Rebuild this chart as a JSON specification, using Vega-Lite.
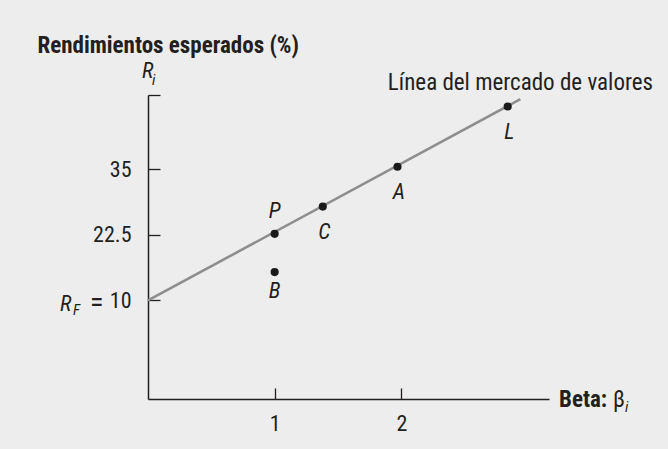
{
  "$schema": "https://vega.github.io/schema/vega-lite/v6.json",
  "width": 401,
  "height": 304,
  "autosize": {"type": "none"},
  "padding": {"left": 148, "top": 95, "right": 119, "bottom": 50},
  "background": "#ededed",
  "config": {
    "view": {"stroke": null},
    "font": "Roboto Condensed, DejaVu Sans Condensed, Arial Narrow, Roboto",
    "text": {"font": "Roboto Condensed, DejaVu Sans Condensed, Arial Narrow, Roboto", "color": "#231f20"}
  },
  "datasets": {
    "linea": [
      {"beta": 0, "rendimiento": 10},
      {"beta": 2.94, "rendimiento": 48.4}
    ],
    "puntos": [
      {"nombre": "P", "beta": 1.0, "rendimiento": 22.7},
      {"nombre": "B", "beta": 1.0, "rendimiento": 15.4},
      {"nombre": "C", "beta": 1.38, "rendimiento": 27.9},
      {"nombre": "A", "beta": 1.97, "rendimiento": 35.5},
      {"nombre": "L", "beta": 2.84, "rendimiento": 47.0}
    ]
  },
  "layer": [
    {
      "data": {"name": "linea"},
      "mark": {"type": "line", "color": "#8e8e8e", "strokeWidth": 2.6},
      "encoding": {
        "x": {
          "field": "beta",
          "type": "quantitative",
          "scale": {"domain": [0, 3.166], "nice": false, "zero": false},
          "axis": {
            "values": [1, 2],
            "format": "d",
            "title": null,
            "grid": false,
            "domainColor": "#231f20",
            "domainWidth": 1.5,
            "tickColor": "#231f20",
            "tickWidth": 1.3,
            "tickSize": -11,
            "labelFont": "Roboto Condensed, DejaVu Sans Condensed, Arial Narrow, Roboto",
            "labelFontSize": 22,
            "labelColor": "#231f20",
            "labelPadding": 25,
            "labelFlush": false,
            "labelOverlap": false
          }
        },
        "y": {
          "field": "rendimiento",
          "type": "quantitative",
          "scale": {"domain": [-8.82, 49.2], "nice": false, "zero": false},
          "axis": {
            "values": [10, 22.5, 35, 49.2],
            "labelExpr": "datum.value == 10 ? '10' : datum.value == 22.5 ? '22.5' : datum.value == 35 ? '35' : ''",
            "title": "Rendimientos esperados (%)",
            "titleAngle": 0,
            "titleX": -111,
            "titleY": -43,
            "titleAlign": "left",
            "titleBaseline": "alphabetic",
            "titleFont": "Roboto Condensed, DejaVu Sans Condensed, Arial Narrow, Roboto",
            "titleFontSize": 23,
            "titleFontWeight": "bold",
            "titleColor": "#231f20",
            "grid": false,
            "domainColor": "#231f20",
            "domainWidth": 1.5,
            "tickColor": "#231f20",
            "tickWidth": 1.3,
            "tickSize": -12,
            "labelFont": "Roboto Condensed, DejaVu Sans Condensed, Arial Narrow, Roboto",
            "labelFontSize": 22,
            "labelColor": "#231f20",
            "labelPadding": 29,
            "labelBaseline": "middle",
            "labelFlush": false,
            "labelOverlap": false
          }
        }
      }
    },
    {
      "data": {"name": "puntos"},
      "mark": {"type": "point", "filled": true, "color": "#1a1a1a", "size": 66, "opacity": 1},
      "encoding": {
        "x": {"field": "beta", "type": "quantitative"},
        "y": {"field": "rendimiento", "type": "quantitative"}
      }
    },
    {
      "data": {"name": "puntos"},
      "transform": [{"filter": {"field": "nombre", "oneOf": ["P"]}}],
      "mark": {"type": "text", "fontSize": 22, "fontStyle": "italic", "align": "center", "baseline": "alphabetic", "dy": -16, "dx": 0},
      "encoding": {
        "x": {"field": "beta", "type": "quantitative"},
        "y": {"field": "rendimiento", "type": "quantitative"},
        "text": {"field": "nombre"}
      }
    },
    {
      "data": {"name": "puntos"},
      "transform": [{"filter": {"field": "nombre", "oneOf": ["B"]}}],
      "mark": {"type": "text", "fontSize": 22, "fontStyle": "italic", "align": "center", "baseline": "alphabetic", "dy": 25.5, "dx": 0},
      "encoding": {
        "x": {"field": "beta", "type": "quantitative"},
        "y": {"field": "rendimiento", "type": "quantitative"},
        "text": {"field": "nombre"}
      }
    },
    {
      "data": {"name": "puntos"},
      "transform": [{"filter": {"field": "nombre", "oneOf": ["A", "C", "L"]}}],
      "mark": {"type": "text", "fontSize": 22, "fontStyle": "italic", "align": "center", "baseline": "alphabetic", "dy": 32, "dx": 1.5},
      "encoding": {
        "x": {"field": "beta", "type": "quantitative"},
        "y": {"field": "rendimiento", "type": "quantitative"},
        "text": {"field": "nombre"}
      }
    },
    {
      "data": {"values": [{}]},
      "mark": {"type": "text", "fontSize": 23, "align": "right", "baseline": "alphabetic", "dx": 104, "dy": -5},
      "encoding": {
        "x": {"datum": 3.166, "type": "quantitative"},
        "y": {"datum": 49.2, "type": "quantitative"},
        "text": {"value": "Línea del mercado de valores"}
      }
    },
    {
      "data": {"values": [{}]},
      "mark": {"type": "text", "fontSize": 22, "fontStyle": "italic", "align": "left", "baseline": "alphabetic", "dx": -6, "dy": -17},
      "encoding": {
        "x": {"datum": 0, "type": "quantitative"},
        "y": {"datum": 49.2, "type": "quantitative"},
        "text": {"value": "R"}
      }
    },
    {
      "data": {"values": [{}]},
      "mark": {"type": "text", "fontSize": 15, "fontStyle": "italic", "align": "left", "baseline": "alphabetic", "dx": 4, "dy": -10},
      "encoding": {
        "x": {"datum": 0, "type": "quantitative"},
        "y": {"datum": 49.2, "type": "quantitative"},
        "text": {"value": "i"}
      }
    },
    {
      "data": {"values": [{}]},
      "mark": {"type": "text", "fontSize": 22, "fontStyle": "italic", "align": "left", "baseline": "alphabetic", "dx": -88, "dy": 10.5},
      "encoding": {
        "x": {"datum": 0, "type": "quantitative"},
        "y": {"datum": 10, "type": "quantitative"},
        "text": {"value": "R"}
      }
    },
    {
      "data": {"values": [{}]},
      "mark": {"type": "text", "fontSize": 15, "fontStyle": "italic", "align": "left", "baseline": "alphabetic", "dx": -75, "dy": 15},
      "encoding": {
        "x": {"datum": 0, "type": "quantitative"},
        "y": {"datum": 10, "type": "quantitative"},
        "text": {"value": "F"}
      }
    },
    {
      "data": {"values": [{}]},
      "mark": {"type": "text", "fontSize": 28, "align": "left", "baseline": "alphabetic", "dx": -58, "dy": 11},
      "encoding": {
        "x": {"datum": 0, "type": "quantitative"},
        "y": {"datum": 10, "type": "quantitative"},
        "text": {"value": "="}
      }
    },
    {
      "data": {"values": [{}]},
      "mark": {"type": "text", "fontSize": 23, "fontWeight": "bold", "align": "left", "baseline": "alphabetic", "dx": 10, "dy": 8},
      "encoding": {
        "x": {"datum": 3.166, "type": "quantitative"},
        "y": {"datum": -8.82, "type": "quantitative"},
        "text": {"value": "Beta:"}
      }
    },
    {
      "data": {"values": [{}]},
      "mark": {"type": "text", "fontSize": 23, "align": "left", "baseline": "alphabetic", "dx": 64, "dy": 8},
      "encoding": {
        "x": {"datum": 3.166, "type": "quantitative"},
        "y": {"datum": -8.82, "type": "quantitative"},
        "text": {"value": "β"}
      }
    },
    {
      "data": {"values": [{}]},
      "mark": {"type": "text", "fontSize": 15, "fontStyle": "italic", "align": "left", "baseline": "alphabetic", "dx": 76, "dy": 12.5},
      "encoding": {
        "x": {"datum": 3.166, "type": "quantitative"},
        "y": {"datum": -8.82, "type": "quantitative"},
        "text": {"value": "i"}
      }
    }
  ]
}
